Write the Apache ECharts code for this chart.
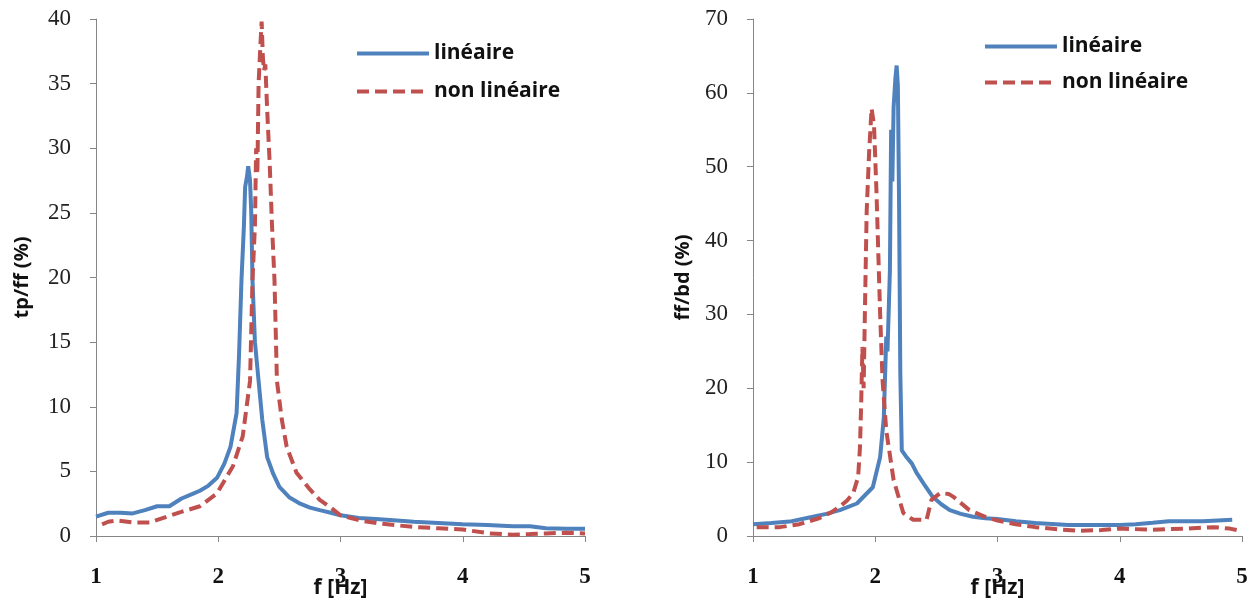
<!DOCTYPE html>
<html>
<head>
<meta charset="utf-8">
<script src="https://cdn.jsdelivr.net/npm/echarts@6/dist/echarts.min.js"></script>
<style>
html,body{margin:0;padding:0;background:#fff;}
#c{width:1258px;height:606px;}
</style>
</head>
<body>
<div id="c"></div>
<script>
// ---- data ----
var seriesNames = ['linéaire', 'non linéaire'];
var xTicks = [1, 2, 3, 4, 5];

// left chart: tp/ff (%)
var leftLinF = [1.0, 1.1, 1.2, 1.3, 1.4, 1.5, 1.6, 1.7, 1.8, 1.85, 1.92, 1.99, 2.05, 2.10, 2.15, 2.17, 2.19, 2.21, 2.22, 2.235, 2.245, 2.26, 2.27, 2.28, 2.30, 2.33, 2.36, 2.40, 2.45, 2.50, 2.58, 2.67, 2.75, 2.83, 2.92, 3.0, 3.15, 3.32, 3.6, 3.8, 4.0, 4.2, 4.41, 4.55, 4.68, 4.85, 5.0];
var leftLinV = [1.5, 1.8, 1.8, 1.75, 2.0, 2.3, 2.3, 2.9, 3.3, 3.5, 3.9, 4.5, 5.6, 6.9, 9.5, 14.0, 19.8, 24.0, 27.0, 27.8, 28.6, 27.5, 25.0, 19.8, 15.0, 12.0, 9.0, 6.1, 4.8, 3.8, 3.0, 2.5, 2.2, 2.0, 1.8, 1.6, 1.4, 1.3, 1.1, 1.0, 0.9, 0.85, 0.75, 0.75, 0.6, 0.57, 0.57];
var leftNonF = [1.05, 1.1, 1.17, 1.3, 1.44, 1.58, 1.71, 1.85, 1.99, 2.12, 2.2, 2.26, 2.28, 2.30, 2.31, 2.32, 2.33, 2.345, 2.355, 2.365, 2.375, 2.385, 2.40, 2.41, 2.42, 2.44, 2.46, 2.48, 2.52, 2.56, 2.64, 2.75, 2.83, 2.92, 3.0, 3.16, 3.32, 3.6, 3.8, 4.0, 4.22, 4.41, 4.55, 4.68, 4.85, 5.0];
var leftNonV = [0.9, 1.1, 1.2, 1.05, 1.05, 1.5, 1.9, 2.3, 3.3, 5.4, 7.7, 12.0, 19.8, 24.0, 30.0, 28.0, 35.0, 38.0, 39.8, 37.0, 36.0, 36.5, 33.0, 31.0, 29.0, 24.0, 19.8, 12.0, 9.0, 6.9, 4.9, 3.6, 2.8, 2.2, 1.6, 1.2, 0.96, 0.7, 0.6, 0.5, 0.2, 0.1, 0.15, 0.2, 0.25, 0.2];

// right chart: ff/bd (%)
var rightLinF = [1.0, 1.15, 1.3, 1.49, 1.6, 1.71, 1.85, 1.98, 2.04, 2.07, 2.09, 2.10, 2.12, 2.13, 2.14, 2.15, 2.165, 2.175, 2.185, 2.195, 2.205, 2.217, 2.25, 2.30, 2.34, 2.40, 2.47, 2.54, 2.61, 2.70, 2.80, 2.9, 3.0, 3.15, 3.31, 3.58, 3.8, 4.0, 4.13, 4.27, 4.4, 4.55, 4.68, 4.8, 4.92];
var rightLinV = [1.6, 1.75, 1.95, 2.6, 3.0, 3.5, 4.4, 6.6, 10.7, 16.0, 27.0, 25.0, 36.0, 55.0, 48.0, 58.0, 62.0, 63.7, 61.0, 45.0, 22.0, 11.6, 10.8, 9.8, 8.5, 7.0, 5.3, 4.3, 3.5, 3.0, 2.6, 2.4, 2.3, 2.0, 1.75, 1.5, 1.5, 1.5, 1.6, 1.8, 2.0, 2.0, 2.0, 2.1, 2.2];
var rightNonF = [1.03, 1.22, 1.38, 1.54, 1.64, 1.71, 1.77, 1.82, 1.86, 1.875, 1.885, 1.895, 1.905, 1.915, 1.93, 1.95, 1.97, 1.99, 2.01, 2.04, 2.06, 2.09, 2.15, 2.23, 2.31, 2.42, 2.46, 2.53, 2.6, 2.64, 2.77, 2.9, 3.0, 3.15, 3.31, 3.5, 3.67, 3.85, 4.0, 4.27, 4.54, 4.77, 4.9, 4.99];
var rightNonV = [1.2, 1.2, 1.6, 2.4, 3.2, 4.0, 4.8, 5.8, 8.0, 12.0, 18.0, 25.6, 20.0, 30.0, 44.0, 52.0, 57.9, 55.6, 46.6, 30.0, 21.0, 14.3, 7.6, 3.1, 2.2, 2.2, 4.9, 5.8, 5.7, 5.3, 3.5, 2.6, 2.1, 1.6, 1.2, 0.9, 0.7, 0.8, 1.0, 0.85, 1.0, 1.2, 1.0, 0.7];

var leftYTicks = {min: 0, max: 40, interval: 5};
var rightYTicks = {min: 0, max: 70, interval: 10};

function zip(a, b) { return a.map(function (v, i) { return [v, b[i]]; }); }

var BLUE = '#4F81BD', RED = '#C0504D', AXIS = '#868686';
var DASH = [12, 6];
var tickFont = {fontFamily: 'Liberation Serif', fontSize: 23, color: '#222'};
var xTickFont = {fontFamily: 'Liberation Serif', fontSize: 23, color: '#111', fontWeight: 'bold'};
var titleFont = {fontFamily: 'Open Sans', fontSize: 20, fontWeight: 'bold', color: '#111'};

function xAxis(idx) {
  return {
    type: 'value', gridIndex: idx, min: 1, max: 5, interval: 1,
    name: 'f [Hz]', nameLocation: 'middle', nameGap: 42, nameMoveOverlap: false,
    nameTextStyle: {fontFamily: 'Open Sans', fontSize: 21, fontWeight: 'bold', color: '#111'},
    axisLine: {show: true, lineStyle: {color: AXIS, width: 1}},
    axisTick: {show: true, inside: false, length: 6, lineStyle: {color: AXIS}},
    axisLabel: Object.assign({margin: 30}, xTickFont),
    splitLine: {show: false}
  };
}
function yAxis(idx, t, name, gap) {
  return {
    type: 'value', gridIndex: idx, min: t.min, max: t.max, interval: t.interval,
    name: name, nameLocation: 'middle', nameGap: gap, nameRotate: 90, nameMoveOverlap: false,
    nameTextStyle: titleFont,
    axisLine: {show: true, lineStyle: {color: AXIS, width: 1}},
    axisTick: {show: true, inside: false, length: 6, lineStyle: {color: AXIS}},
    axisLabel: Object.assign({margin: 25}, tickFont),
    splitLine: {show: false}
  };
}
function line(name, idx, data, color, dashed) {
  return {
    name: name, type: 'line', xAxisIndex: idx, yAxisIndex: idx,
    data: data, showSymbol: false, symbol: 'none', smooth: false,
    lineStyle: {color: color, width: 4, type: dashed ? DASH : 'solid'},
    itemStyle: {color: color},
    animation: false
  };
}
function legend(left, top, gap) {
  return {
    data: seriesNames, orient: 'vertical', left: left, top: top,
    itemWidth: 72, itemHeight: 20, itemGap: gap,
    itemStyle: {opacity: 0},
    lineStyle: {width: 4},
    textStyle: {fontFamily: 'Open Sans', fontSize: 21, fontWeight: 'bold', color: '#111', lineHeight: 20},
    selectedMode: false
  };
}

var chart = echarts.init(document.getElementById('c'));
chart.setOption({
  backgroundColor: '#fff',
  animation: false,
  grid: [
    {left: 96, top: 19, width: 489, bottom: 70, containLabel: false, outerBoundsMode: 'none'},
    {left: 753, top: 19, width: 489, bottom: 70, containLabel: false, outerBoundsMode: 'none'}
  ],
  xAxis: [xAxis(0), xAxis(1)],
  yAxis: [yAxis(0, leftYTicks, 'tp/ff (%)', 64), yAxis(1, rightYTicks, 'ff/bd (%)', 60)],
  legend: [legend(350, 38, 17), legend(978, 31, 15)],
  series: [
    line(seriesNames[0], 0, zip(leftLinF, leftLinV), BLUE, false),
    line(seriesNames[1], 0, zip(leftNonF, leftNonV), RED, true),
    line(seriesNames[0], 1, zip(rightLinF, rightLinV), BLUE, false),
    line(seriesNames[1], 1, zip(rightNonF, rightNonV), RED, true)
  ]
});
</script>
</body>
</html>
